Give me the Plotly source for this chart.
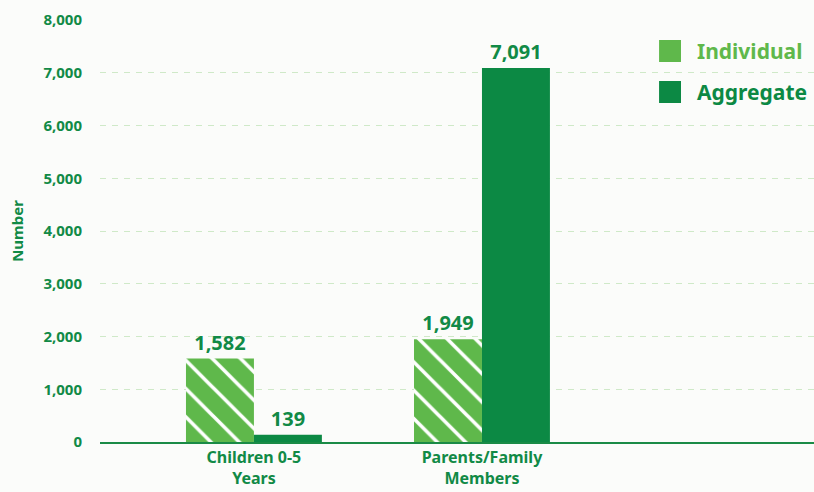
import plotly.graph_objects as go

# Number of people served, by group
categories = ["Children 0-5<br>Years", "Parents/Family<br>Members"]
series_names = ["Individual", "Aggregate"]
individual = [1582, 1949]
aggregate = [139, 7091]
y_ticks = [0, 1000, 2000, 3000, 4000, 5000, 6000, 7000, 8000]

LIGHT = "#5fb84b"
DARK = "#0c8944"
TEXT = "#118a46"
FONT = "Noto Sans"

x_pos = list(range(len(categories)))

fig = go.Figure()
fig.add_trace(go.Bar(
    x=x_pos, y=individual, name=series_names[0],
    marker=dict(color=LIGHT, line=dict(width=0),
                pattern=dict(shape="\\", fgcolor="white", bgcolor=LIGHT,
                             size=20, solidity=0.18, fillmode="replace")),
    texttemplate="%{y:,}", textposition="outside", cliponaxis=False,
    textfont=dict(family=FONT, size=20, color=TEXT, weight="bold"),
    showlegend=False,
))
fig.add_trace(go.Bar(
    x=x_pos, y=aggregate, name=series_names[1],
    marker=dict(color=DARK, line=dict(width=0)),
    texttemplate="%{y:,}", textposition="outside", cliponaxis=False,
    textfont=dict(family=FONT, size=20, color=TEXT, weight="bold"),
    showlegend=False,
))

# Legend: solid swatches with coloured labels
legend_colors = [LIGHT, DARK]
legend_rows = [(0.9526, 0.9005), (0.8555, 0.8033)]
for name, col, (top, bot) in zip(series_names, legend_colors, legend_rows):
    fig.add_shape(type="rect", xref="paper", yref="paper",
                  x0=0.783, x1=0.8137, y0=bot, y1=top,
                  fillcolor=col, line=dict(width=0))
    fig.add_annotation(xref="paper", yref="paper", x=0.834, y=(top + bot) / 2,
                       text=name, showarrow=False, xanchor="left", yanchor="middle",
                       font=dict(family=FONT, size=21, color=col, weight="bold"))

fig.update_layout(
    width=814, height=492,
    margin=dict(l=100, r=0, t=20, b=50),
    paper_bgcolor="#fbfcfa", plot_bgcolor="rgba(0,0,0,0)",
    barmode="group", bargap=0.404, bargroupgap=0,
    font=dict(family=FONT, color=TEXT),
    xaxis=dict(
        tickvals=x_pos, ticktext=categories,
        range=[-0.675, 2.456], automargin=False,
        showgrid=False, zeroline=False,
        showline=True, linecolor="#1a8b46", linewidth=1.5,
        ticks="", 
        tickfont=dict(family=FONT, size=16, color=TEXT, weight="bold"),
    ),
    yaxis=dict(
        range=[0, 8000], tickvals=y_ticks, tickformat=",d", automargin=False,
        showgrid=True, gridcolor="#cfe9c8", gridwidth=1, griddash="6px,6px",
        zeroline=False, showline=False,
        ticks="outside", ticklen=14, tickcolor="rgba(0,0,0,0)",
        tickfont=dict(family=FONT, size=15, color=TEXT, weight="bold"),
        title=dict(text="Number", standoff=16,
                   font=dict(family=FONT, size=15, color=TEXT, weight="bold")),
    ),
)

fig.write_html("out.html")
